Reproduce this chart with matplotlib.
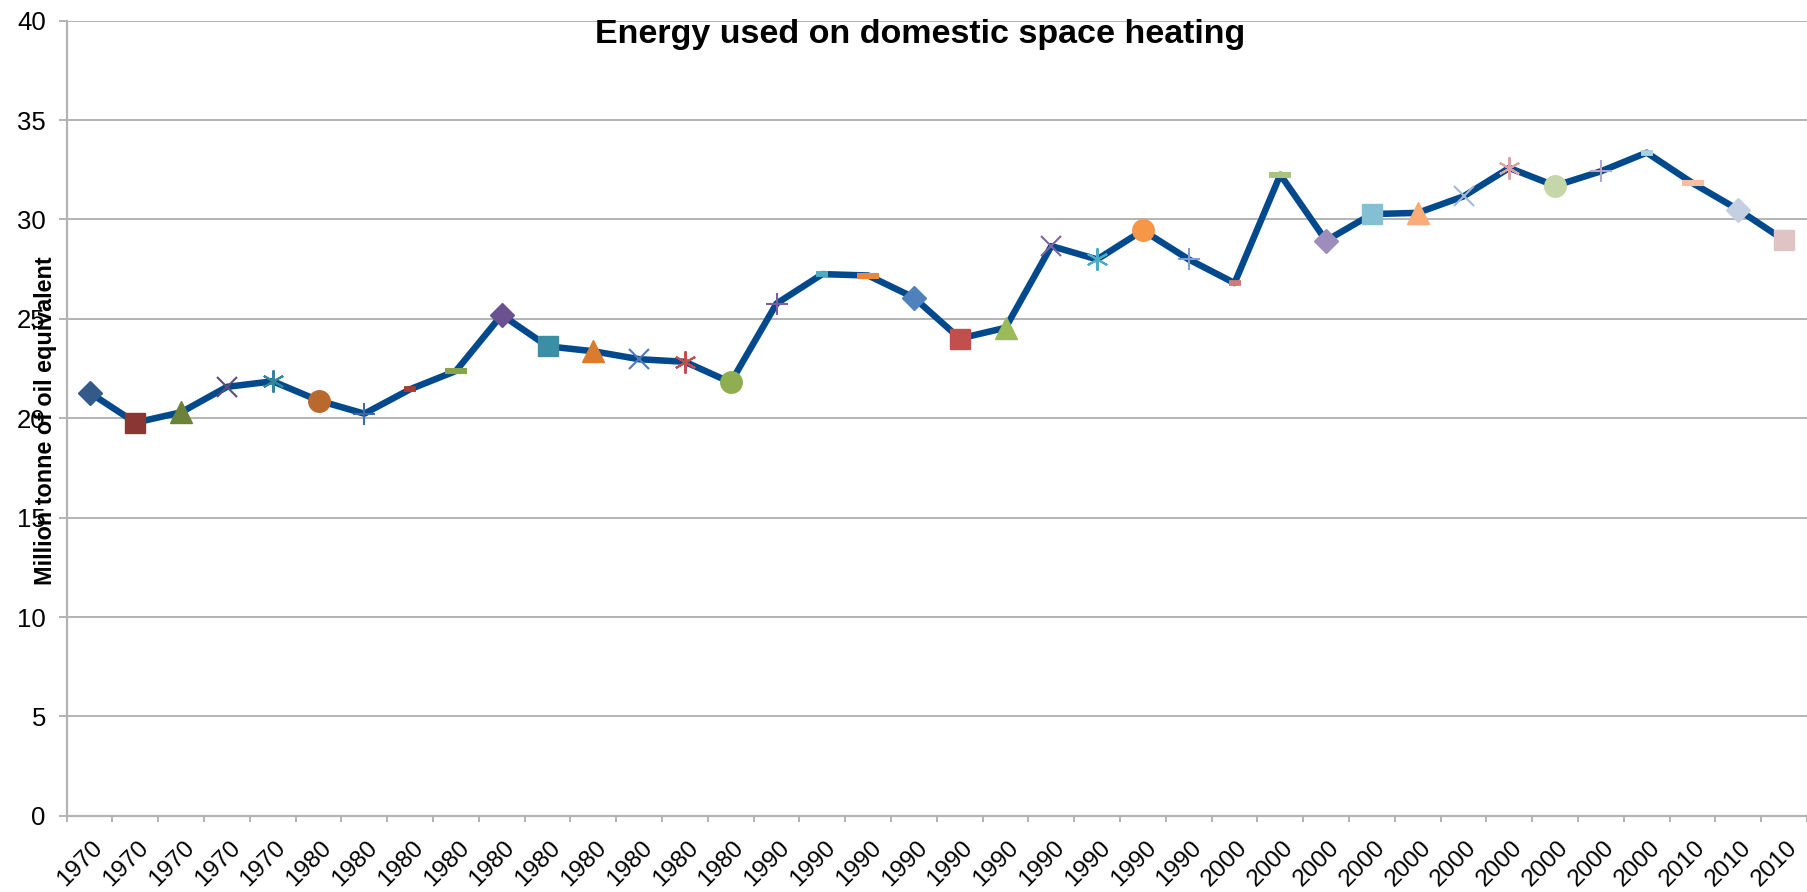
import numpy as np
import matplotlib.pyplot as plt
import matplotlib.transforms as mtransforms

plt.rcParams['font.family'] = ['Liberation Sans', 'DejaVu Sans']

# category labels as shown on the axis
years = ['1970'] * 5 + ['1980'] * 10 + ['1990'] * 10 + ['2000'] * 10 + ['2010'] * 3

# million tonne of oil equivalent
energy = [21.29, 19.78, 20.30, 21.58, 21.86, 20.89, 20.23, 21.46, 22.38, 25.20,
          23.62, 23.37, 22.97, 22.84, 21.80, 25.77, 27.25, 27.18, 26.07, 24.01,
          24.55, 28.66, 27.99, 29.45, 27.99, 26.80, 32.25, 28.93, 30.27, 30.33,
          31.16, 32.59, 31.69, 32.42, 33.36, 31.83, 30.49, 28.96]

# excel style "vary colours by point" markers
marker_cycle = ['D', 's', '^', 'x', 'ast', 'o', '+', 'sdash', 'ldash']
point_colors = ['#345A8A', '#893634', '#6B8338', '#5F4A7B', '#31859C', '#B9682E',
                '#3D6BA6', '#A33B39', '#86A44A', '#6A5290', '#3A8FA6', '#D97C2E',
                '#4E7BBD', '#C0504D', '#8FAE52', '#7B5FA0', '#4BACC6', '#E9883B',
                '#4F81BD', '#C0504D', '#9BBB59', '#8064A2', '#4BACC6', '#F79646',
                '#7D9FD2', '#D47A79', '#A9C47F', '#9E8DBB', '#84C0D4', '#F9AB78',
                '#A6B8DA', '#DDA3A2', '#C5D6A8', '#B3A6CB', '#A7D2E0', '#F8BE9E',
                '#C4CFE2', '#E0C3C4']

fig = plt.figure(figsize=(18.07, 8.92), dpi=100)
ax = fig.add_axes([0.0369, 0.0853, 0.9631, 0.8916])

x = np.arange(len(energy))
ax.plot(x, energy, color='#00498C', lw=4.7, zorder=3, solid_joinstyle='round')

for i, v in enumerate(energy):
    m = marker_cycle[i % len(marker_cycle)]
    c = point_colors[i]
    if m == 'D':
        ax.plot(i, v, marker='D', ms=12, color=c, mec=c, zorder=4)
    elif m == 's':
        ax.plot(i, v, marker='s', ms=15, color=c, mec=c, zorder=4)
    elif m == '^':
        ax.plot(i, v, marker='^', ms=16, color=c, mec=c, zorder=4)
    elif m == 'o':
        ax.plot(i, v, marker='o', ms=15.5, color=c, mec=c, zorder=4)
    elif m == 'x':
        ax.plot(i, v, marker='x', ms=14, mew=1.5, color=c, zorder=4)
    elif m == 'ast':
        ax.plot(i, v, marker=(6, 2, 0), ms=16, mew=1.5, color=c, zorder=4)
    elif m == '+':
        ax.plot(i, v, marker='+', ms=16, mew=1.5, color=c, zorder=4)
    elif m == 'sdash':
        ax.plot(i, v, marker='_', ms=9, mew=4.2, color=c, zorder=4)
    else:
        ax.plot(i, v, marker='_', ms=16, mew=4.4, color=c, zorder=4)

ax.set_xlim(-0.5, len(energy) - 0.5)
ax.set_ylim(0, 40)
ax.set_yticks(np.arange(0, 41, 5))
ax.grid(axis='y', color='#B3B3B3', lw=1.4, zorder=0)
ax.set_axisbelow(True)

ax.set_xticks(x)
ax.set_xticklabels(years, rotation=45, ha='right', va='top',
                   rotation_mode='anchor', fontsize=17.5)
ax.set_xticks(np.arange(-0.5, len(energy)), minor=True)
ax.tick_params(axis='x', which='major', length=0, pad=15)
ax.tick_params(axis='x', which='minor', length=4.5, width=1.4, color='#B3B3B3')
ax.tick_params(axis='y', length=6, width=1.4, color='#B3B3B3', labelsize=18.5, pad=9)

shift = mtransforms.ScaledTranslation(2 / 100, 0, fig.dpi_scale_trans)
for lab in ax.get_xticklabels():
    lab.set_transform(lab.get_transform() + shift)

for s in ['top', 'right']:
    ax.spines[s].set_visible(False)
for s in ['left', 'bottom']:
    ax.spines[s].set_color('#B3B3B3')
    ax.spines[s].set_linewidth(1.6)

fig.text(0.509, 0.9521, 'Energy used on domestic space heating', ha='center',
         va='baseline', fontsize=24.5, fontweight='bold')
fig.text(0.0252, 0.5285, 'Million tonne of oil equivalent', rotation=90, ha='center',
         va='center', fontsize=16.8, fontweight='bold')

fig.savefig('out.png', dpi=100)
